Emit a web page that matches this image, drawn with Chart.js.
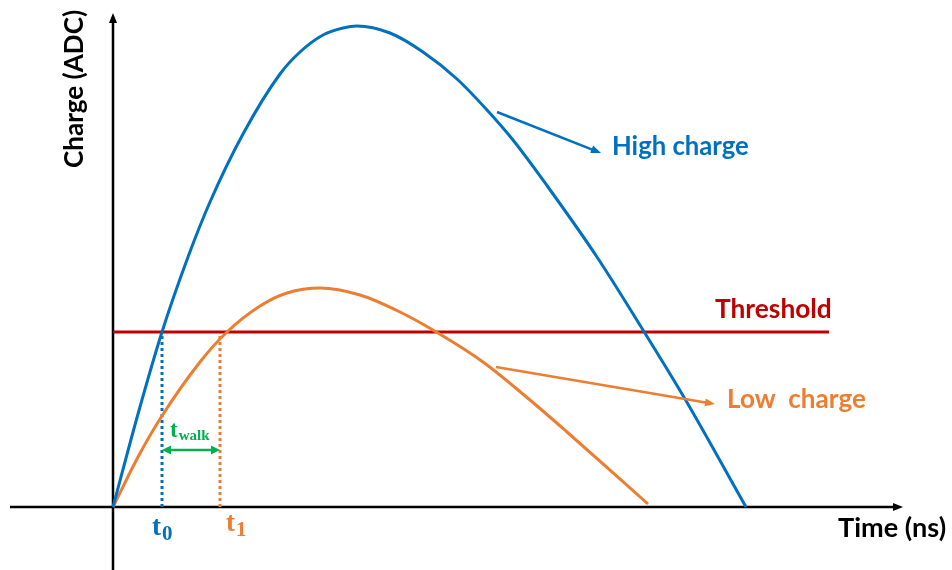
<!DOCTYPE html>
<html><head><meta charset="utf-8">
<script src="https://cdn.jsdelivr.net/npm/chart.js@4.4.1/dist/chart.umd.min.js"></script>
<style>html,body{margin:0;padding:0;background:#fff}#wrap{width:952px;height:570px;position:relative}</style>
</head><body><div id="wrap"><canvas id="c"></canvas></div>
<script>
// ---- data (time in ns, arbitrary units; charge in ADC, arbitrary units) ----
const highTime   = [0, 25, 49, 75, 97, 130, 167, 187, 210, 230, 244, 277, 310, 344, 374, 400, 435, 484, 530, 572, 633];
const highCharge = [0, 93, 175, 250, 305, 373, 433, 455, 472, 479, 481, 474, 455, 428, 397, 367, 320, 250, 177, 108, 0];
const lowTime    = [0, 25, 47, 87, 114, 147, 174, 207, 247, 287, 325, 370, 417, 454, 535];
const lowCharge  = [0, 50, 88, 145, 175, 201, 214, 219, 212, 195, 174, 145, 107, 75, 3];
const thresholdLevel = 175;
const thresholdSpan  = [0, 716];
const t0 = 49;
const t1 = 107;
const walkLevel = 57;
const textLabels = ['High charge', 'Low  charge', 'Threshold', 'Time (ns)', 'Charge (ADC)'];

const BLUE = '#0070c0', ORANGE = '#ed7d31', RED = '#c00000', GREEN = '#00b050';

const pts = (xs, ys) => xs.map((x, i) => ({x, y: ys[i]}));

function arrowHead(ctx, x1, y1, x2, y2, len, wid, color) {
  const a = Math.atan2(y2 - y1, x2 - x1);
  ctx.save();
  ctx.fillStyle = color;
  ctx.translate(x2, y2); ctx.rotate(a);
  ctx.beginPath(); ctx.moveTo(0, 0); ctx.lineTo(-len, -wid / 2); ctx.lineTo(-len, wid / 2); ctx.closePath(); ctx.fill();
  ctx.restore();
}
function arrow(ctx, x1, y1, x2, y2, color, lw, len, wid) {
  const a = Math.atan2(y2 - y1, x2 - x1);
  ctx.save();
  ctx.strokeStyle = color; ctx.lineWidth = lw;
  ctx.beginPath(); ctx.moveTo(x1, y1); ctx.lineTo(x2 - Math.cos(a) * len * 0.8, y2 - Math.sin(a) * len * 0.8); ctx.stroke();
  ctx.restore();
  arrowHead(ctx, x1, y1, x2, y2, len, wid, color);
}
function fitText(ctx, text, family, width) {
  ctx.font = 'bold 100px ' + family;
  const w = ctx.measureText(text).width;
  return 100 * width / w;
}
function sansLabel(ctx, text, left, cy, width, color) {
  const fam = 'Lato, "Open Sans", sans-serif';
  const size = fitText(ctx, text, fam, width);
  ctx.font = 'bold ' + size.toFixed(1) + 'px ' + fam;
  ctx.fillStyle = color; ctx.textAlign = 'left'; ctx.textBaseline = 'middle';
  ctx.fillText(text, left, cy);
}
function subLabel(ctx, main, sub, left, base, mainSize, subSize, subDrop, color) {
  const fam = '"Liberation Serif", "DejaVu Serif", serif';
  ctx.fillStyle = color; ctx.textAlign = 'left'; ctx.textBaseline = 'alphabetic';
  ctx.font = 'bold ' + mainSize + 'px ' + fam;
  ctx.fillText(main, left, base);
  const w = ctx.measureText(main).width;
  ctx.font = 'bold ' + subSize + 'px ' + fam;
  ctx.fillText(sub, left + w + 1, base + subDrop);
}

const decor = {
  id: 'decor',
  beforeDatasetsDraw(chart) {
    const ctx = chart.ctx, xs = chart.scales.x, ys = chart.scales.y;
    const X = v => xs.getPixelForValue(v), Y = v => ys.getPixelForValue(v);
    ctx.save();
    ctx.strokeStyle = '#000'; ctx.lineWidth = 2.5;
    ctx.beginPath(); ctx.moveTo(X(-103), Y(0)); ctx.lineTo(X(782), Y(0)); ctx.stroke();
    ctx.beginPath(); ctx.moveTo(X(0), Y(-63)); ctx.lineTo(X(0), Y(486)); ctx.stroke();
    ctx.restore();
    arrowHead(ctx, X(0), Y(0), X(790), Y(0), 10, 8, '#000');
    arrowHead(ctx, X(0), Y(0), X(0), Y(494), 10, 8, '#000');
  },
  afterDatasetsDraw(chart) {
    const ctx = chart.ctx, xs = chart.scales.x, ys = chart.scales.y;
    const X = v => xs.getPixelForValue(v), Y = v => ys.getPixelForValue(v);
    ctx.save();
    arrowHead(ctx, X(t1), Y(walkLevel), X(t0), Y(walkLevel), 9, 9, GREEN);
    arrowHead(ctx, X(t0), Y(walkLevel), X(t1), Y(walkLevel), 9, 9, GREEN);
    arrow(ctx, X(384), Y(395), X(488), Y(354), BLUE, 2.5, 10, 8);
    arrow(ctx, X(383), Y(140), X(602), Y(103), ORANGE, 2.5, 10, 8);
    sansLabel(ctx, textLabels[0], X(499), Y(360), 137, BLUE);
    sansLabel(ctx, textLabels[1], X(614), Y(107), 139, ORANGE);
    sansLabel(ctx, textLabels[2], X(602), Y(197), 117, RED);
    sansLabel(ctx, textLabels[3], X(725), Y(-21), 108, '#000');
    ctx.save();
    ctx.translate(X(-38), Y(418)); ctx.rotate(-Math.PI / 2);
    const fam = 'Lato, "Open Sans", sans-serif';
    const sz = fitText(ctx, textLabels[4], fam, 158);
    ctx.font = 'bold ' + sz.toFixed(1) + 'px ' + fam;
    ctx.fillStyle = '#000'; ctx.textAlign = 'center'; ctx.textBaseline = 'middle';
    ctx.fillText(textLabels[4], 0, 0);
    ctx.restore();
    subLabel(ctx, 't', '0', X(t0) - 10, Y(-28), 27, 21, 5, BLUE);
    subLabel(ctx, 't', '1', X(t1) + 6, Y(-24), 27, 21, 5, ORANGE);
    subLabel(ctx, 't', 'walk', X(t0) + 8, Y(70), 23, 15, 3, GREEN);
    ctx.restore();
  }
};

new Chart(document.getElementById('c'), {
  type: 'line',
  data: {
    datasets: [
      { data: pts(highTime, highCharge), borderColor: BLUE, borderWidth: 3, cubicInterpolationMode: 'monotone' },
      { data: pts(lowTime, lowCharge), borderColor: ORANGE, borderWidth: 3, cubicInterpolationMode: 'monotone' },
      { data: pts(thresholdSpan, [thresholdLevel, thresholdLevel]), borderColor: RED, borderWidth: 3 },
      { data: pts([t0, t0], [0, thresholdLevel]), borderColor: BLUE, borderWidth: 3, borderDash: [3, 3] },
      { data: pts([t1, t1], [0, thresholdLevel]), borderColor: ORANGE, borderWidth: 3, borderDash: [3, 3] },
      { data: pts([t0 + 6, t1 - 6], [walkLevel, walkLevel]), borderColor: GREEN, borderWidth: 2.5 }
    ]
  },
  options: {
    responsive: true, maintainAspectRatio: false, animation: false,
    layout: { padding: 0 },
    elements: { point: { radius: 0 }, line: { fill: false, borderCapStyle: 'butt' } },
    plugins: { legend: { display: false }, tooltip: { enabled: false }, title: { display: false } },
    scales: {
      x: { type: 'linear', min: -113, max: 839, display: false },
      y: { type: 'linear', min: -63, max: 507, display: false }
    }
  },
  plugins: [decor]
});
</script></body></html>
